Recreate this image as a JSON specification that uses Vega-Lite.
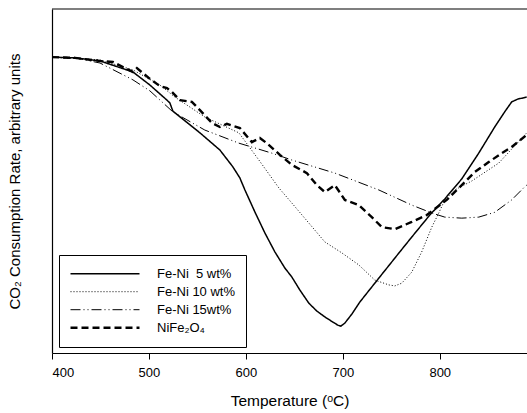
{
  "$schema": "https://vega.github.io/schema/vega-lite/v6.json",
  "width": 475,
  "height": 344,
  "autosize": {"type": "none"},
  "padding": {"left": 52, "top": 9, "right": 0, "bottom": 60},
  "background": "white",
  "layer": [
    {
      "data": {"values": [
        {"s": "Fe-Ni \u00a05 wt%", "T": 400, "v": 86.0},
        {"s": "Fe-Ni \u00a05 wt%", "T": 423.7, "v": 85.8},
        {"s": "Fe-Ni \u00a05 wt%", "T": 449.5, "v": 84.9},
        {"s": "Fe-Ni \u00a05 wt%", "T": 483.5, "v": 81.7},
        {"s": "Fe-Ni \u00a05 wt%", "T": 501, "v": 77.9},
        {"s": "Fe-Ni \u00a05 wt%", "T": 518.6, "v": 73.5},
        {"s": "Fe-Ni \u00a05 wt%", "T": 521.6, "v": 72.7},
        {"s": "Fe-Ni \u00a05 wt%", "T": 524.7, "v": 70.3},
        {"s": "Fe-Ni \u00a05 wt%", "T": 552.6, "v": 64.0},
        {"s": "Fe-Ni \u00a05 wt%", "T": 573.2, "v": 59.0},
        {"s": "Fe-Ni \u00a05 wt%", "T": 586.6, "v": 54.1},
        {"s": "Fe-Ni \u00a05 wt%", "T": 593.8, "v": 50.9},
        {"s": "Fe-Ni \u00a05 wt%", "T": 599, "v": 47.4},
        {"s": "Fe-Ni \u00a05 wt%", "T": 609.3, "v": 41.0},
        {"s": "Fe-Ni \u00a05 wt%", "T": 619.6, "v": 34.9},
        {"s": "Fe-Ni \u00a05 wt%", "T": 629.9, "v": 29.4},
        {"s": "Fe-Ni \u00a05 wt%", "T": 640.2, "v": 24.7},
        {"s": "Fe-Ni \u00a05 wt%", "T": 647.4, "v": 22.1},
        {"s": "Fe-Ni \u00a05 wt%", "T": 655.7, "v": 18.3},
        {"s": "Fe-Ni \u00a05 wt%", "T": 664.9, "v": 14.5},
        {"s": "Fe-Ni \u00a05 wt%", "T": 673.2, "v": 12.2},
        {"s": "Fe-Ni \u00a05 wt%", "T": 681.4, "v": 10.5},
        {"s": "Fe-Ni \u00a05 wt%", "T": 689.7, "v": 9.0},
        {"s": "Fe-Ni \u00a05 wt%", "T": 694.8, "v": 8.1},
        {"s": "Fe-Ni \u00a05 wt%", "T": 697.9, "v": 7.8},
        {"s": "Fe-Ni \u00a05 wt%", "T": 702.1, "v": 8.7},
        {"s": "Fe-Ni \u00a05 wt%", "T": 709.3, "v": 11.3},
        {"s": "Fe-Ni \u00a05 wt%", "T": 717.5, "v": 14.8},
        {"s": "Fe-Ni \u00a05 wt%", "T": 738.1, "v": 22.1},
        {"s": "Fe-Ni \u00a05 wt%", "T": 758.8, "v": 29.4},
        {"s": "Fe-Ni \u00a05 wt%", "T": 771.1, "v": 33.7},
        {"s": "Fe-Ni \u00a05 wt%", "T": 789.7, "v": 40.1},
        {"s": "Fe-Ni \u00a05 wt%", "T": 805.2, "v": 44.8},
        {"s": "Fe-Ni \u00a05 wt%", "T": 822.7, "v": 50.6},
        {"s": "Fe-Ni \u00a05 wt%", "T": 840.2, "v": 58.1},
        {"s": "Fe-Ni \u00a05 wt%", "T": 856.7, "v": 65.7},
        {"s": "Fe-Ni \u00a05 wt%", "T": 867, "v": 70.1},
        {"s": "Fe-Ni \u00a05 wt%", "T": 874.2, "v": 73.0},
        {"s": "Fe-Ni \u00a05 wt%", "T": 880.4, "v": 73.8},
        {"s": "Fe-Ni \u00a05 wt%", "T": 889.7, "v": 74.4},

        {"s": "Fe-Ni 10 wt%", "T": 400, "v": 86.0},
        {"s": "Fe-Ni 10 wt%", "T": 449.5, "v": 85.2},
        {"s": "Fe-Ni 10 wt%", "T": 483.5, "v": 82.3},
        {"s": "Fe-Ni 10 wt%", "T": 511.3, "v": 77.9},
        {"s": "Fe-Ni 10 wt%", "T": 526.8, "v": 74.4},
        {"s": "Fe-Ni 10 wt%", "T": 557.7, "v": 68.6},
        {"s": "Fe-Ni 10 wt%", "T": 592.8, "v": 64.0},
        {"s": "Fe-Ni 10 wt%", "T": 613.4, "v": 56.1},
        {"s": "Fe-Ni 10 wt%", "T": 634, "v": 48.0},
        {"s": "Fe-Ni 10 wt%", "T": 647.4, "v": 43.6},
        {"s": "Fe-Ni 10 wt%", "T": 664.9, "v": 37.8},
        {"s": "Fe-Ni 10 wt%", "T": 681.4, "v": 32.3},
        {"s": "Fe-Ni 10 wt%", "T": 699, "v": 29.1},
        {"s": "Fe-Ni 10 wt%", "T": 716.5, "v": 25.6},
        {"s": "Fe-Ni 10 wt%", "T": 733, "v": 21.2},
        {"s": "Fe-Ni 10 wt%", "T": 747.4, "v": 19.8},
        {"s": "Fe-Ni 10 wt%", "T": 753.6, "v": 19.5},
        {"s": "Fe-Ni 10 wt%", "T": 760.8, "v": 20.3},
        {"s": "Fe-Ni 10 wt%", "T": 771.1, "v": 23.5},
        {"s": "Fe-Ni 10 wt%", "T": 781.4, "v": 29.4},
        {"s": "Fe-Ni 10 wt%", "T": 791.8, "v": 36.6},
        {"s": "Fe-Ni 10 wt%", "T": 799, "v": 40.7},
        {"s": "Fe-Ni 10 wt%", "T": 805.2, "v": 44.5},
        {"s": "Fe-Ni 10 wt%", "T": 815.5, "v": 47.4},
        {"s": "Fe-Ni 10 wt%", "T": 833, "v": 50.0},
        {"s": "Fe-Ni 10 wt%", "T": 860.8, "v": 55.2},
        {"s": "Fe-Ni 10 wt%", "T": 889.7, "v": 64.0},

        {"s": "Fe-Ni 15wt%", "T": 400, "v": 86.0},
        {"s": "Fe-Ni 15wt%", "T": 423.7, "v": 85.8},
        {"s": "Fe-Ni 15wt%", "T": 449.5, "v": 84.3},
        {"s": "Fe-Ni 15wt%", "T": 483.5, "v": 79.4},
        {"s": "Fe-Ni 15wt%", "T": 501, "v": 76.2},
        {"s": "Fe-Ni 15wt%", "T": 524.7, "v": 70.1},
        {"s": "Fe-Ni 15wt%", "T": 557.7, "v": 64.8},
        {"s": "Fe-Ni 15wt%", "T": 592.8, "v": 61.0},
        {"s": "Fe-Ni 15wt%", "T": 626.8, "v": 58.1},
        {"s": "Fe-Ni 15wt%", "T": 647.4, "v": 56.1},
        {"s": "Fe-Ni 15wt%", "T": 691.8, "v": 52.3},
        {"s": "Fe-Ni 15wt%", "T": 737.1, "v": 47.4},
        {"s": "Fe-Ni 15wt%", "T": 771.1, "v": 43.0},
        {"s": "Fe-Ni 15wt%", "T": 791.8, "v": 40.7},
        {"s": "Fe-Ni 15wt%", "T": 805.2, "v": 39.5},
        {"s": "Fe-Ni 15wt%", "T": 822.7, "v": 39.2},
        {"s": "Fe-Ni 15wt%", "T": 840.2, "v": 39.5},
        {"s": "Fe-Ni 15wt%", "T": 856.7, "v": 40.9},
        {"s": "Fe-Ni 15wt%", "T": 874.2, "v": 44.5},
        {"s": "Fe-Ni 15wt%", "T": 887.6, "v": 48.3},
        {"s": "Fe-Ni 15wt%", "T": 889.7, "v": 48.8},

        {"s": "NiFe₂O₄", "T": 400, "v": 86.0},
        {"s": "NiFe₂O₄", "T": 423.7, "v": 85.8},
        {"s": "NiFe₂O₄", "T": 449.5, "v": 84.9},
        {"s": "NiFe₂O₄", "T": 462.9, "v": 84.6},
        {"s": "NiFe₂O₄", "T": 475.3, "v": 82.8},
        {"s": "NiFe₂O₄", "T": 483.5, "v": 81.7},
        {"s": "NiFe₂O₄", "T": 487.6, "v": 82.8},
        {"s": "NiFe₂O₄", "T": 501, "v": 79.7},
        {"s": "NiFe₂O₄", "T": 511.3, "v": 77.6},
        {"s": "NiFe₂O₄", "T": 518.6, "v": 77.0},
        {"s": "NiFe₂O₄", "T": 523.7, "v": 75.9},
        {"s": "NiFe₂O₄", "T": 532, "v": 73.5},
        {"s": "NiFe₂O₄", "T": 544.3, "v": 73.0},
        {"s": "NiFe₂O₄", "T": 552.6, "v": 70.6},
        {"s": "NiFe₂O₄", "T": 564.9, "v": 66.9},
        {"s": "NiFe₂O₄", "T": 573.2, "v": 65.7},
        {"s": "NiFe₂O₄", "T": 580.4, "v": 66.6},
        {"s": "NiFe₂O₄", "T": 593.8, "v": 65.4},
        {"s": "NiFe₂O₄", "T": 606.2, "v": 61.3},
        {"s": "NiFe₂O₄", "T": 614.4, "v": 62.5},
        {"s": "NiFe₂O₄", "T": 621.6, "v": 61.0},
        {"s": "NiFe₂O₄", "T": 635.1, "v": 57.6},
        {"s": "NiFe₂O₄", "T": 647.4, "v": 54.7},
        {"s": "NiFe₂O₄", "T": 662.9, "v": 52.3},
        {"s": "NiFe₂O₄", "T": 673.2, "v": 48.8},
        {"s": "NiFe₂O₄", "T": 681.4, "v": 46.8},
        {"s": "NiFe₂O₄", "T": 691.8, "v": 48.8},
        {"s": "NiFe₂O₄", "T": 702.1, "v": 44.5},
        {"s": "NiFe₂O₄", "T": 716.5, "v": 43.0},
        {"s": "NiFe₂O₄", "T": 729.9, "v": 39.5},
        {"s": "NiFe₂O₄", "T": 740.2, "v": 36.6},
        {"s": "NiFe₂O₄", "T": 753.6, "v": 36.0},
        {"s": "NiFe₂O₄", "T": 771.1, "v": 38.1},
        {"s": "NiFe₂O₄", "T": 786.6, "v": 40.1},
        {"s": "NiFe₂O₄", "T": 807.2, "v": 44.5},
        {"s": "NiFe₂O₄", "T": 822.7, "v": 48.8},
        {"s": "NiFe₂O₄", "T": 836.1, "v": 52.6},
        {"s": "NiFe₂O₄", "T": 850.5, "v": 55.5},
        {"s": "NiFe₂O₄", "T": 863.9, "v": 58.1},
        {"s": "NiFe₂O₄", "T": 874.2, "v": 59.9},
        {"s": "NiFe₂O₄", "T": 889.7, "v": 63.4}
      ]},
      "mark": {"type": "line", "color": "black", "clip": true},
      "encoding": {
        "x": {"field": "T", "type": "quantitative", "scale": {"domain": [400, 890], "nice": false, "zero": false},
              "axis": {"values": [400, 500, 600, 700, 800], "tickSize": 6, "labelFontSize": 13, "labelPadding": 7, "title": "Temperature (ᵒC)", "titleFontSize": 15.5, "titlePadding": 14}},
        "y": {"field": "v", "type": "quantitative", "scale": {"domain": [0, 100], "nice": false},
              "axis": {"labels": false, "ticks": false, "title": "CO₂ Consumption Rate, arbitrary units", "titleFontSize": 15, "titlePadding": 30}},
        "strokeDash": {"field": "s", "type": "ordinal",
          "scale": {"domain": ["Fe-Ni \u00a05 wt%", "Fe-Ni 10 wt%", "Fe-Ni 15wt%", "NiFe₂O₄"], "range": [[1, 0], [1, 2], [10, 3, 1, 3, 1, 3], [7, 4]]},
          "legend": {"title": null}},
        "strokeWidth": {"field": "s", "type": "ordinal",
          "scale": {"type": "ordinal", "domain": ["Fe-Ni \u00a05 wt%", "Fe-Ni 10 wt%", "Fe-Ni 15wt%", "NiFe₂O₄"], "range": [1.5, 1, 1, 2.4]},
          "legend": {"title": null}}
      }
    },
    {
      "data": {"values": [{}]},
      "mark": {"type": "rule", "color": "black", "strokeWidth": 1.2},
      "encoding": {"y": {"datum": 100}}
    }
  ],
  "config": {
    "view": {"stroke": null},
    "font": "Liberation Sans",
    "axis": {"domainColor": "black", "domainWidth": 1.2, "tickColor": "black", "labelColor": "black", "titleColor": "black", "labelFont": "Liberation Sans", "titleFont": "Liberation Sans", "titleFontWeight": "normal", "grid": false},
    "legend": {"orient": "none", "legendX": 7, "legendY": 246, "strokeColor": "black", "fillColor": "white", "padding": 10, "symbolType": "stroke", "symbolSize": 4761, "symbolStrokeColor": "black", "labelOffset": 16, "labelFont": "Liberation Sans", "labelFontSize": 13, "labelColor": "black", "clipHeight": 17.4, "rowPadding": 0}
  }
}
